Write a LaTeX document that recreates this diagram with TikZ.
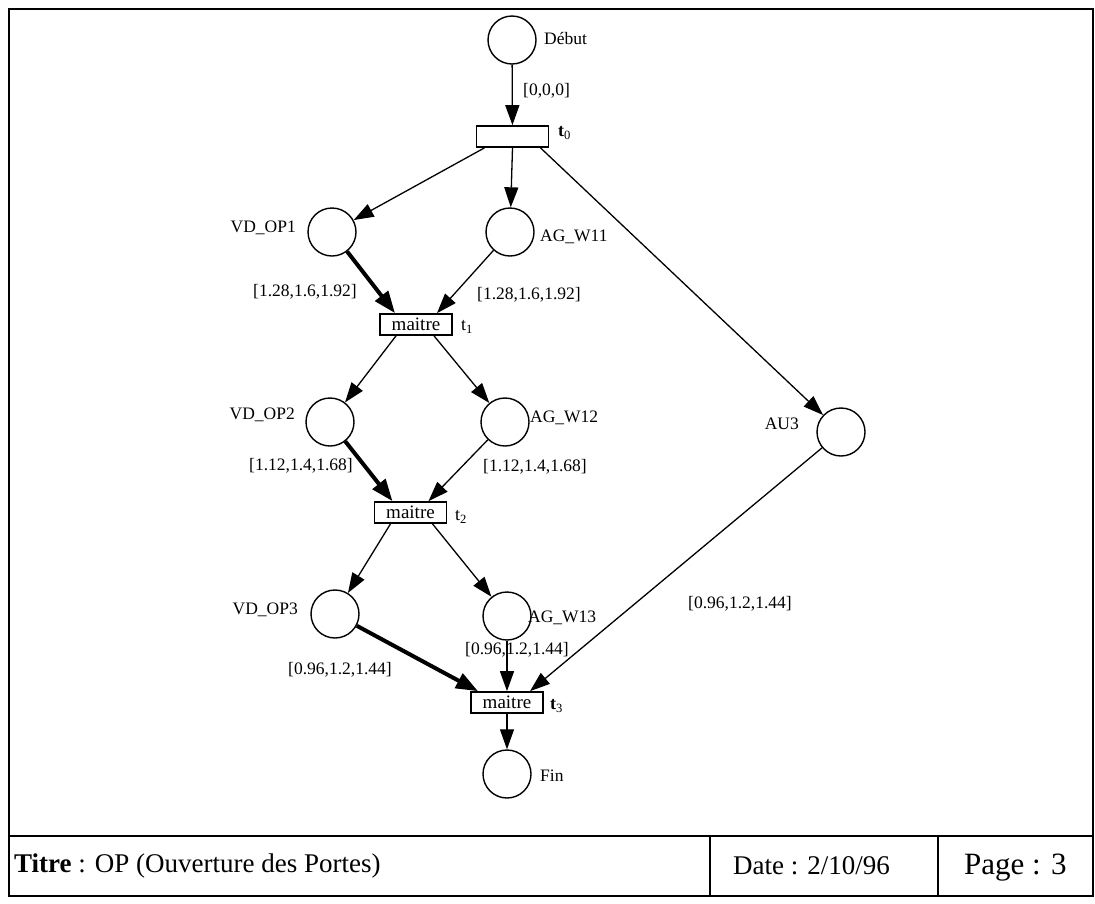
\documentclass[tikz,border=0pt]{standalone}
\usepackage{fontspec}
\setmainfont{Liberation Serif}
\usetikzlibrary{arrows.meta}
\begin{document}
\begin{tikzpicture}[x=1pt,y=-1pt,
  place/.style={circle,draw,line width=1.4pt,minimum size=48pt,inner sep=0pt},
  trans/.style={rectangle,draw,line width=1.7pt,minimum width=72pt,minimum height=21pt,inner sep=0pt,font=\fontsize{19}{19}\selectfont},
  lbl/.style={inner sep=0pt,font=\fontsize{17.5}{17.5}\selectfont},
  wlbl/.style={inner sep=0pt,font=\fontsize{17.5}{17.5}\selectfont},
  tlbl/.style={inner sep=0pt,font=\fontsize{18}{18}\selectfont},
  arc/.style={line width=1.3pt,-{Triangle[length=20pt,width=14pt]}},
  heavy/.style={line width=4pt,-{Triangle[length=22pt,width=16pt]}},
  frame/.style={line width=2.2pt}]
\useasboundingbox (0,0) rectangle (1095,903);
% frame and title block
\draw[frame] (9,9) rectangle (1093,896);
\draw[frame] (9,836) -- (1093,836);
\draw[frame] (710,836) -- (710,896);
\draw[frame] (938,836) -- (938,896);
\node[anchor=west,inner sep=0pt,font=\fontsize{27}{27}\selectfont] (titre) at (14,866) {\textbf{Titre} : OP (Ouverture des Portes)};
\node[anchor=west,inner sep=0pt,font=\fontsize{27}{27}\selectfont] (date) at (733,866) {Date : 2/10/96};
\node[anchor=west,inner sep=0pt,font=\fontsize{31}{31}\selectfont] (page) at (964,868) {Page : 3};
% places
\node[place] (debut) at (512,40) {};
\node[place] (vd1) at (332,232) {};
\node[place] (ag1) at (510,232) {};
\node[place] (vd2) at (330,422) {};
\node[place] (ag2) at (505,422) {};
\node[place] (au3) at (841,432) {};
\node[place] (vd3) at (335,614) {};
\node[place] (ag3) at (507,616) {};
\node[place] (fin) at (507,774) {};
% transitions
\node[trans] (t0) at (512.5,136.5) {};
\node[trans] (t1) at (416,324.5) {maitre};
\node[trans] (t2) at (410.5,512.5) {maitre};
\node[trans] (t3) at (507,702.5) {maitre};
% place labels
\node[lbl,anchor=west] (ldebut) at (544,38) {Début};
\node[lbl,anchor=east] (lvd1) at (296,228) {VD\_OP1};
\node[lbl,anchor=west] (lag1) at (540,237) {AG\_W11};
\node[lbl,anchor=east] (lvd2) at (295,415) {VD\_OP2};
\node[lbl,anchor=west] (lag2) at (530,418) {AG\_W12};
\node[lbl,anchor=east] (lau3) at (799,424) {AU3};
\node[lbl,anchor=east] (lvd3) at (298,610) {VD\_OP3};
\node[lbl,anchor=west] (lag3) at (528,618) {AG\_W13};
\node[lbl,anchor=west] (lfin) at (540,776) {Fin};
% transition labels
\node[tlbl,anchor=west] (lt0) at (558,133) {\textbf{t}\textsubscript{0}};
\node[tlbl,anchor=west] (lt1) at (461,327) {t\textsubscript{1}};
\node[tlbl,anchor=west] (lt2) at (455,517) {t\textsubscript{2}};
\node[tlbl,anchor=west] (lt3) at (550,706) {\textbf{t}\textsubscript{3}};
% weight labels
\node[wlbl,anchor=west] (w0) at (523,91) {[0,0,0]};
\node[wlbl,anchor=center] (w1a) at (305,292) {[1.28,1.6,1.92]};
\node[wlbl,anchor=center] (w1b) at (529,295) {[1.28,1.6,1.92]};
\node[wlbl,anchor=center] (w2a) at (301,466) {[1.12,1.4,1.68]};
\node[wlbl,anchor=center] (w2b) at (535,467) {[1.12,1.4,1.68]};
\node[wlbl,anchor=center] (w3a) at (340,670) {[0.96,1.2,1.44]};
\node[wlbl,anchor=center] (w3b) at (517,650) {[0.96,1.2,1.44]};
\node[wlbl,anchor=center] (w3c) at (740,604) {[0.96,1.2,1.44]};
% arcs
\draw[arc] (debut) -- (t0);
\draw[arc] ([xshift=-28pt]t0.south) -- (vd1);
\draw[arc] (t0.south) -- (ag1);
\draw[arc] ([xshift=28pt]t0.south) -- (au3);
\draw[heavy] (vd1) -- ([xshift=-21pt]t1.north);
\draw[arc] (ag1) -- ([xshift=21pt]t1.north);
\draw[arc] ([xshift=-20pt]t1.south) -- (vd2);
\draw[arc] ([xshift=18pt]t1.south) -- (ag2);
\draw[heavy] (vd2) -- ([xshift=-18pt]t2.north);
\draw[arc] (ag2) -- ([xshift=18pt]t2.north);
\draw[arc] ([xshift=-20pt]t2.south) -- (vd3);
\draw[arc] ([xshift=22pt]t2.south) -- (ag3);
\draw[heavy] (vd3) -- ([xshift=-29pt]t3.north);
\draw[arc] (ag3) -- (t3.north);
\draw[arc] (au3) -- ([xshift=23pt]t3.north);
\draw[arc] (t3) -- (fin);
\end{tikzpicture}
\end{document}
